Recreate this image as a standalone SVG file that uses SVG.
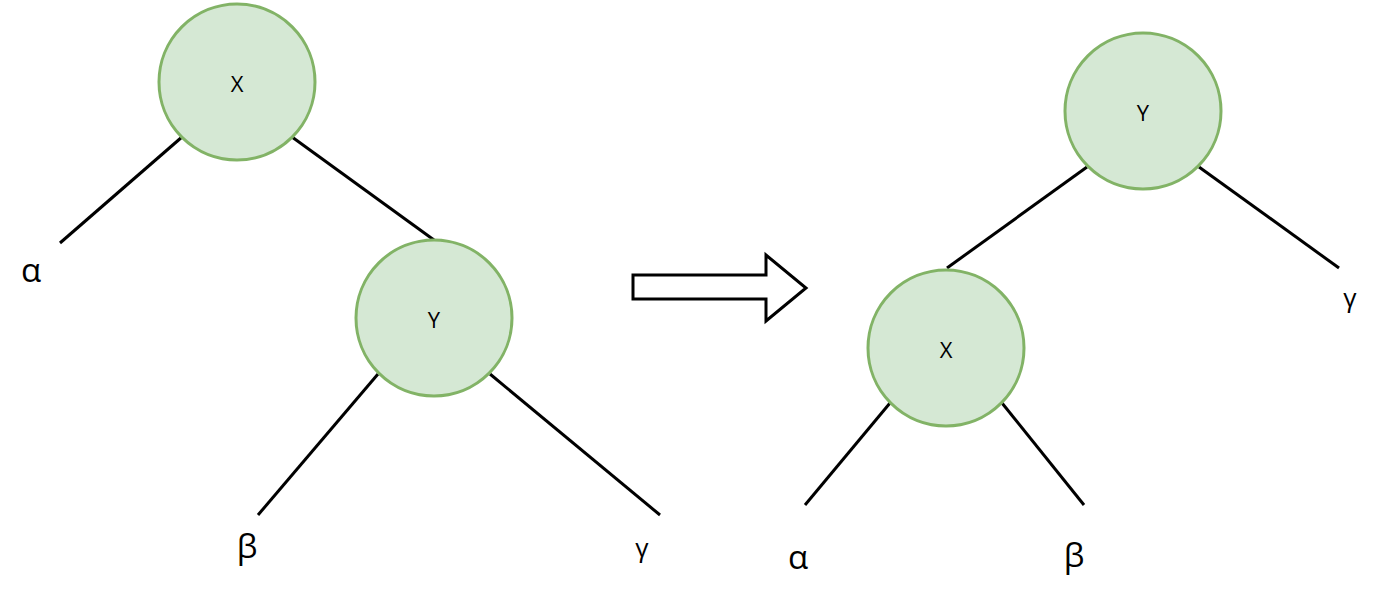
<svg xmlns="http://www.w3.org/2000/svg" width="1400" height="605" viewBox="0 0 1400 605">
<style>
.node{fill:#d5e8d4;stroke:#82b366;stroke-width:3}
.edge{stroke:#000;stroke-width:3;fill:none}
.nl{font-family:"Open Sans","Noto Sans",sans-serif;font-size:22px;fill:#000;text-anchor:middle;dominant-baseline:central}
.gl{font-family:"Open Sans","Noto Sans",sans-serif;font-size:33px;fill:#000;text-anchor:middle}
.gs{font-family:"Open Sans","Noto Sans",sans-serif;font-size:26px;fill:#000;text-anchor:middle}
</style>
<rect width="1400" height="605" fill="#fff"/>
<g id="connectors">
<line class="edge" x1="182" y1="137" x2="60" y2="243"/>
<line class="edge" x1="292" y1="137" x2="434" y2="240"/>
<line class="edge" x1="378" y1="374" x2="258" y2="515"/>
<line class="edge" x1="490" y1="374" x2="660" y2="515"/>
<line class="edge" x1="1087" y1="167" x2="947" y2="268"/>
<line class="edge" x1="1199" y1="167" x2="1339" y2="268"/>
<line class="edge" x1="890" y1="403" x2="805" y2="505"/>
<line class="edge" x1="1002" y1="403" x2="1084" y2="505"/>
</g>
<g id="nodeX1"><circle class="node" cx="237" cy="82" r="78"/><text class="nl" x="237" y="83">X</text></g>
<g id="nodeY1"><circle class="node" cx="434" cy="318" r="78"/><text class="nl" x="434" y="319">Y</text></g>
<g id="nodeY2"><circle class="node" cx="1143" cy="111" r="78"/><text class="nl" x="1143" y="112">Y</text></g>
<g id="nodeX2"><circle class="node" cx="946" cy="348" r="78"/><text class="nl" x="946" y="349">X</text></g>
<g id="arrow"><path d="M633,275 H766 V255 L806,288 L766,321 V299 H633 Z" fill="#fff" stroke="#000" stroke-width="3"/></g>
<g id="labels">
<text class="gl" x="31" y="282">α</text>
<text class="gl" x="247" y="558">β</text>
<text class="gs" x="642" y="557">γ</text>
<text class="gl" x="798" y="569">α</text>
<text class="gl" x="1074" y="567">β</text>
<text class="gs" x="1350" y="307">γ</text>
</g>
</svg>
